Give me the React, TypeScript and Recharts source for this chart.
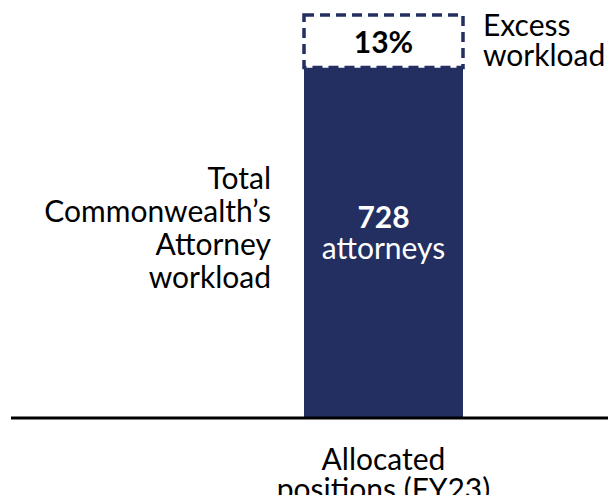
import React from 'react';
import { BarChart, Bar, XAxis, YAxis, LabelList } from 'recharts';

const categories = ['Allocated positions (FY23)'];
const tickLines = [['Allocated', 'positions (FY23)']];
const allocated = [728];
const excess = [109];
const excessLabels = ['13%'];
const baseLabelLines = ['728', 'attorneys'];
const leftLabelLines = ['Total', 'Commonwealth\u2019s', 'Attorney', 'workload'];
const excessSideLines = ['Excess', 'workload'];

const NAVY = '#232F61';
const FONT = 'Lato, "Open Sans", sans-serif';
const FS = 30;

const data = categories.map((name, i) => ({
  name,
  allocated: allocated[i],
  excess: excess[i],
}));

function AxisTick(props: any) {
  const { x, y, index } = props;
  const lines = tickLines[index] || [];
  return (
    <g>
      {lines.map((l, i) => (
        <text key={i} x={x} y={y + 44 + i * 30} textAnchor="middle" fill="#000" fontSize={FS} fontFamily={FONT}>
          {l}
        </text>
      ))}
    </g>
  );
}

function BaseLabel(props: any) {
  const { x, y, width, height } = props;
  const mid = y + height / 2;
  return (
    <g fontFamily={FONT} fontSize={FS}>
      {leftLabelLines.map((l, i) => (
        <text key={i} x={x - 33} y={mid - 54 + i * 33} textAnchor="end" fill="#000">
          {l}
        </text>
      ))}
      <text x={x + width / 2} y={mid - 15} textAnchor="middle" fill="#fff" fontWeight="bold">
        {baseLabelLines[0]}
      </text>
      <text x={x + width / 2} y={mid + 16} textAnchor="middle" fill="#fff">
        {baseLabelLines[1]}
      </text>
    </g>
  );
}

function ExcessLabel(props: any) {
  const { x, y, width, height, index } = props;
  const mid = y + height / 2;
  return (
    <g fontFamily={FONT} fontSize={FS}>
      <text x={x + width / 2} y={mid + 12} textAnchor="middle" fill="#000" fontWeight="bold">
        {excessLabels[index]}
      </text>
      {excessSideLines.map((l, i) => (
        <text key={i} x={x + width + 20} y={mid - 5 + i * 30} textAnchor="start" fill="#000">
          {l}
        </text>
      ))}
    </g>
  );
}

export default function App() {
  return (
    <div style={{ position: 'absolute', left: 0, top: 0, width: 608, height: 495, background: '#fff' }}>
      <BarChart width={608} height={495} data={data} margin={{ top: 15, right: 0, bottom: 0, left: 11 }}>
        <XAxis
          dataKey="name"
          height={77}
          axisLine={{ stroke: '#000', strokeWidth: 3 }}
          tickLine={false}
          tick={<AxisTick />}
          padding={{ left: 148, right: 0 }}
          interval={0}
        />
        <YAxis hide domain={[0, 'dataMax']} />
        <Bar dataKey="allocated" stackId="a" fill={NAVY} barSize={159} isAnimationActive={false}>
          <LabelList dataKey="allocated" content={<BaseLabel />} />
        </Bar>
        <Bar
          dataKey="excess"
          stackId="a"
          fill="#fff"
          stroke={NAVY}
          strokeWidth={3.5}
          strokeDasharray="10 6"
          barSize={159}
          isAnimationActive={false}
        >
          <LabelList dataKey="excess" content={<ExcessLabel />} />
        </Bar>
      </BarChart>
    </div>
  );
}
